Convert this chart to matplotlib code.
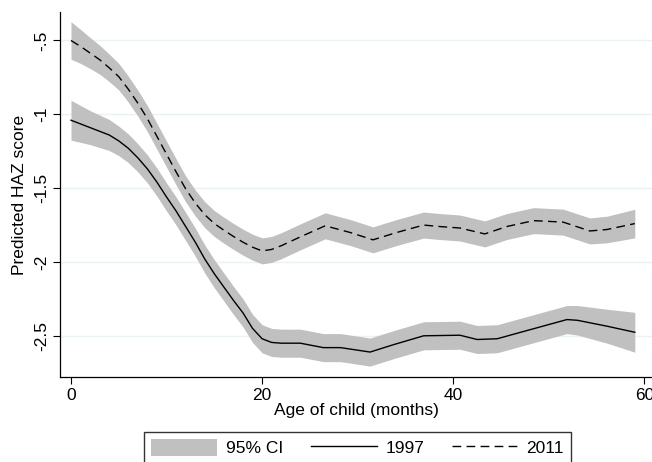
import numpy as np
import matplotlib
matplotlib.use('Agg')
import matplotlib.pyplot as plt
from matplotlib.patches import Patch
from matplotlib.lines import Line2D

plt.rcParams['font.family'] = ['Liberation Sans', 'DejaVu Sans']

# predicted HAZ score by age, 1997 survey
age_1997 = [0, 1, 2, 3, 4, 5, 6, 7, 8, 9, 10, 11, 12, 13, 14, 15, 16, 17, 18,
            19, 20, 21, 22, 24, 26.4, 28.2, 31.3, 33.75, 36.9, 40.7, 42.5, 44.6,
            47.4, 51.9, 53, 56.1, 59]
haz_1997 = [-1.04, -1.065, -1.09, -1.115, -1.14, -1.18, -1.23, -1.295, -1.37,
            -1.46, -1.56, -1.655, -1.76, -1.865, -1.98, -2.08, -2.17, -2.26,
            -2.345, -2.45, -2.52, -2.545, -2.55, -2.55, -2.58, -2.58, -2.61,
            -2.56, -2.50, -2.496, -2.525, -2.52, -2.47, -2.39, -2.395, -2.435,
            -2.476]
ci_1997 = [0.135, 0.125, 0.115, 0.11, 0.105, 0.10, 0.097, 0.095, 0.095, 0.095,
           0.095, 0.095, 0.095, 0.095, 0.095, 0.095, 0.095, 0.095, 0.095, 0.095,
           0.095, 0.095, 0.095, 0.095, 0.095, 0.095, 0.095, 0.095, 0.095, 0.095,
           0.095, 0.095, 0.095, 0.095, 0.10, 0.115, 0.135]

# predicted HAZ score by age, 2011 survey
age_2011 = [0, 1, 2, 3, 4, 5, 6, 7, 8, 9, 10, 11, 12, 13, 14, 15, 16, 17, 18,
            19, 20, 21, 22, 24, 26.6, 29.2, 31.6, 34.1, 36.9, 38.6, 40.7, 43.3,
            45.6, 48.4, 51.5, 54.3, 56.1, 59]
haz_2011 = [-0.50, -0.54, -0.585, -0.63, -0.685, -0.745, -0.83, -0.925, -1.03,
            -1.15, -1.27, -1.39, -1.505, -1.60, -1.68, -1.74, -1.785, -1.827,
            -1.866, -1.90, -1.925, -1.915, -1.89, -1.83, -1.755, -1.80, -1.85,
            -1.80, -1.75, -1.76, -1.77, -1.81, -1.76, -1.72, -1.73, -1.79,
            -1.78, -1.74]
ci_2011 = [0.127, 0.115, 0.105, 0.098, 0.093, 0.09, 0.088, 0.088, 0.088, 0.088,
           0.088, 0.088, 0.088, 0.088, 0.088, 0.088, 0.088, 0.088, 0.088, 0.088,
           0.088, 0.088, 0.088, 0.088, 0.088, 0.088, 0.088, 0.088, 0.088, 0.088,
           0.088, 0.088, 0.088, 0.088, 0.088, 0.088, 0.09, 0.097]

xticks = [0, 20, 40, 60]
yticks = [-0.5, -1, -1.5, -2, -2.5]
ytick_labels = ['-.5', '-1', '-1.5', '-2', '-2.5']

band_col = '#c0c0c0'
fs = 12.5

fig = plt.figure(figsize=(6.52, 4.62), dpi=100)
ax = fig.add_axes([60/652, 85/462, 1 - 60/652, 365/462])

for a, h, c in [(age_1997, haz_1997, ci_1997), (age_2011, haz_2011, ci_2011)]:
    a = np.array(a); h = np.array(h); c = np.array(c)
    ax.fill_between(a, h - c, h + c, color=band_col, lw=0, zorder=2)

ax.plot(age_1997, haz_1997, color='black', lw=1.0, zorder=3)
ax.plot(age_2011, haz_2011, color='black', lw=1.0, dashes=(6.3, 3.8), zorder=3)

ax.set_xlim(-1.15, 60.8)
ax.set_ylim(-2.779, -0.307)
ax.set_xticks(xticks)
ax.set_yticks(yticks)
ax.set_yticklabels(ytick_labels, rotation=90, va='center')
ax.tick_params(direction='out', length=5, width=0.8, labelsize=fs, pad=3)
ax.grid(axis='y', color='#eaf2f3', lw=1.0, zorder=1)
ax.set_axisbelow(True)
for s in ['top', 'right']:
    ax.spines[s].set_visible(False)
for s in ['left', 'bottom']:
    ax.spines[s].set_linewidth(0.9)

ax.set_xlabel('Age of child (months)', fontsize=fs, labelpad=0)
ax.set_ylabel('Predicted HAZ score', fontsize=fs)
ax.yaxis.set_label_coords(-33/592, 0.5)

handles = [Patch(facecolor=band_col, edgecolor='none'),
           Line2D([], [], color='black', lw=1.0),
           Line2D([], [], color='black', lw=1.0, dashes=(6.3, 3.8))]
fig.legend(handles, ['95% CI', '1997', '2011'], loc='upper center',
           bbox_to_anchor=(357.5/652, 1 - 432/462), ncol=3, fontsize=fs,
           frameon=True, fancybox=False, edgecolor='#333333', framealpha=1,
           handlelength=3.8, handleheight=1.1, handletextpad=0.5,
           columnspacing=1.6, borderpad=0.4, borderaxespad=0)

fig.savefig('out.png', dpi=100)
